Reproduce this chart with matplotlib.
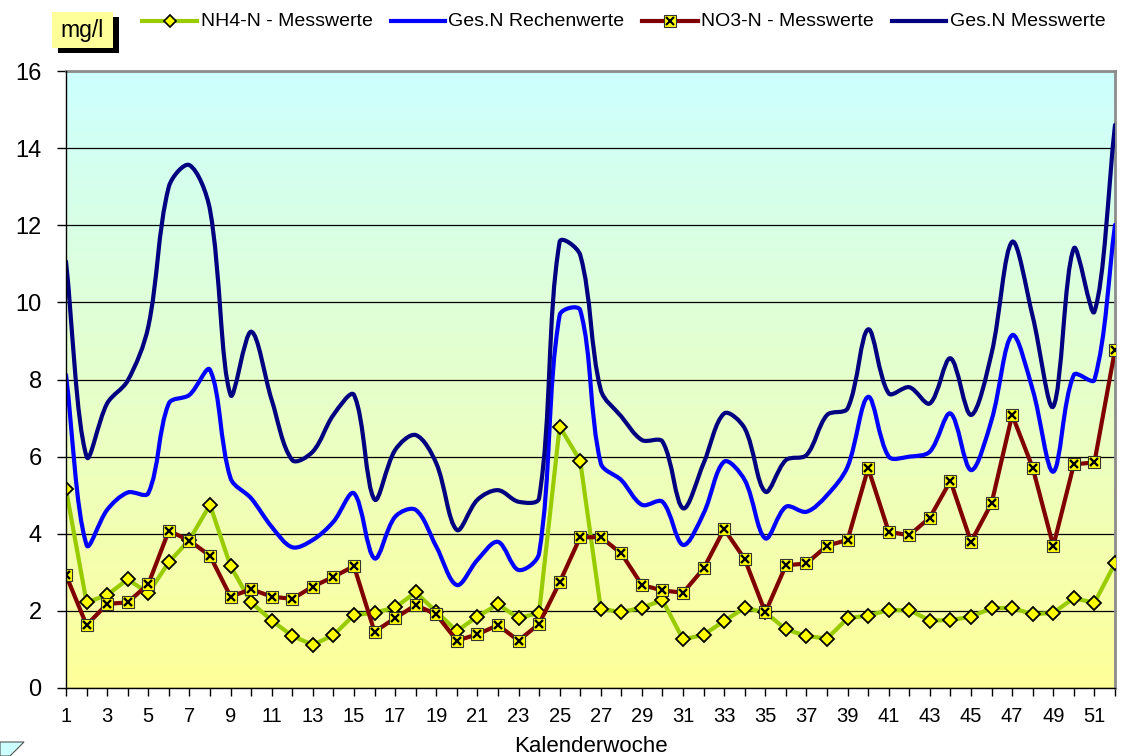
import numpy as np
import matplotlib
matplotlib.use('Agg')
import matplotlib.pyplot as plt
from matplotlib.path import Path
from matplotlib.patches import PathPatch, Rectangle, Polygon
from matplotlib.lines import Line2D

plt.rcParams['font.family'] = ['Liberation Sans', 'DejaVu Sans']

# Calendar weeks
weeks = list(range(1, 53))

# NH4-N measured values (mg/l)
nh4 = [5.15, 2.22, 2.41, 2.82, 2.46, 3.26, 3.84, 4.75, 3.16, 2.22,
       1.75, 1.35, 1.12, 1.37, 1.89, 1.95, 2.09, 2.48, 1.98, 1.48,
       1.85, 2.17, 1.81, 1.95, 6.78, 5.89, 2.05, 1.97, 2.08, 2.28,
       1.26, 1.38, 1.74, 2.08, 1.96, 1.52, 1.35, 1.28, 1.81, 1.88,
       2.02, 2.02, 1.75, 1.76, 1.85, 2.07, 2.08, 1.91, 1.95, 2.33,
       2.21, 3.23]

# NO3-N measured values (mg/l)
no3 = [2.93, 1.63, 2.18, 2.22, 2.69, 4.08, 3.82, 3.43, 2.37, 2.56,
       2.37, 2.31, 2.63, 2.88, 3.16, 1.46, 1.81, 2.15, 1.91, 1.23,
       1.39, 1.63, 1.23, 1.66, 2.74, 3.91, 3.91, 3.49, 2.67, 2.53,
       2.47, 3.10, 4.12, 3.34, 1.96, 3.18, 3.23, 3.69, 3.84, 5.70,
       4.05, 3.96, 4.42, 5.37, 3.79, 4.79, 7.08, 5.71, 3.68, 5.80,
       5.85, 8.77]

# Ges.N calculated values (mg/l)
gesn_calc = [8.12, 3.71, 4.62, 5.07, 5.05, 7.38, 7.60, 8.25, 5.44, 4.92,
             4.18, 3.65, 3.84, 4.31, 5.05, 3.36, 4.44, 4.62, 3.67, 2.67,
             3.32, 3.79, 3.06, 3.49, 9.67, 9.80, 5.83, 5.39, 4.75, 4.83,
             3.71, 4.53, 5.87, 5.39, 3.88, 4.70, 4.57, 5.00, 5.74, 7.55,
             6.00, 6.00, 6.13, 7.12, 5.65, 6.95, 9.15, 7.73, 5.61, 8.12,
             7.99, 12.01]

# Ges.N measured values (mg/l)
gesn_meas = [11.06, 6.00, 7.38, 7.97, 9.37, 13.00, 13.56, 12.40, 7.60, 9.24,
             7.47, 5.91, 6.13, 7.08, 7.60, 4.89, 6.17, 6.56, 5.83, 4.10,
             4.88, 5.13, 4.83, 4.92, 11.57, 11.23, 7.73, 7.04, 6.43, 6.39,
             4.66, 5.83, 7.12, 6.73, 5.09, 5.91, 6.04, 7.08, 7.25, 9.30,
             7.64, 7.80, 7.38, 8.55, 7.08, 8.68, 11.57, 9.63, 7.30, 11.40,
             9.76, 14.60]

series_names = ['NH4-N - Messwerte', 'Ges.N Rechenwerte',
                'NO3-N - Messwerte', 'Ges.N Messwerte']

C_NH4 = '#99CC00'
C_CALC = '#0000FF'
C_NO3 = '#800000'
C_MEAS = '#000080'


def smooth_path(ax, xs, ys):
    # Excel-like smoothed line: cubic Bezier segments, tangents weighted by
    # the on-screen length of the neighbouring segments
    pts = ax.transData.transform(np.column_stack([xs, ys]))
    n = len(pts)
    cout = [None] * n
    cin = [None] * n
    for i in range(n):
        a = pts[i - 1] if i > 0 else pts[i]
        b = pts[i + 1] if i < n - 1 else pts[i]
        d_in = np.hypot(*(pts[i] - a))
        d_out = np.hypot(*(b - pts[i]))
        tot = d_in + d_out
        if tot == 0:
            cout[i] = cin[i] = pts[i]
            continue
        tan = b - a
        cout[i] = pts[i] + tan * d_out / tot / 3
        cin[i] = pts[i] - tan * d_in / tot / 3
    verts = [pts[0]]
    codes = [Path.MOVETO]
    for i in range(n - 1):
        verts += [cout[i], cin[i + 1], pts[i + 1]]
        codes += [Path.CURVE4] * 3
    inv = ax.transData.inverted()
    return Path(inv.transform(np.array(verts)), codes)


W, H = 1125, 756
fig = plt.figure(figsize=(W / 100, H / 100), dpi=100)
ax = fig.add_axes([66 / W, (H - 688) / H, (1115 - 66) / W, (688 - 71) / H])
ax.set_xlim(1, 52)
ax.set_ylim(0, 16)

# background gradient: cyan at top, pale yellow at bottom
top = np.array([0xCC, 0xFF, 0xFF]) / 255
bot = np.array([0xFF, 0xFF, 0x99]) / 255
t = np.linspace(0, 1, 256)[:, None]
grad = (top * (1 - t) + bot * t)[:, None, :]
ax.imshow(grad, extent=[1, 52, 0, 16], aspect='auto', zorder=0, interpolation='bilinear')

ax.set_yticks(range(0, 17, 2))
ax.yaxis.grid(True, color='black', lw=0.9, zorder=1)
ax.set_axisbelow(True)

# series
ax.plot(weeks, nh4, color=C_NH4, lw=3, marker='D', ms=7, mfc='#FFFF00',
        mec='black', mew=1.3, zorder=3)
ax.add_patch(PathPatch(smooth_path(ax, weeks, gesn_calc), fill=False, ec=C_CALC,
                       lw=3, zorder=4, capstyle='round', joinstyle='round'))
ax.plot(weeks, no3, color=C_NO3, lw=3, marker='s', ms=8, mfc='#FFFF00',
        mec='#333333', mew=0.8, zorder=5)
ax.plot(weeks, no3, ls='none', marker='x', ms=6.3, mec='black', mew=1.7, zorder=5)
ax.add_patch(PathPatch(smooth_path(ax, weeks, gesn_meas), fill=False, ec=C_MEAS,
                       lw=3, zorder=6, capstyle='round', joinstyle='round'))

# axes styling
ax.set_xticks(weeks)
ax.set_xticklabels([str(w) if w % 2 == 1 else '' for w in weeks])
ax.tick_params(axis='x', length=6, width=1, pad=8, labelsize=14.5, direction='out')
ax.tick_params(axis='y', length=6.5, width=1, pad=11, labelsize=17, direction='out')
for s in ['top', 'right']:
    ax.spines[s].set_color('#8C8C8C')
    ax.spines[s].set_linewidth(2)
for s in ['left', 'bottom']:
    ax.spines[s].set_color('black')
    ax.spines[s].set_linewidth(1)
    ax.spines[s].set_zorder(7)
ax.set_xlabel('Kalenderwoche', fontsize=16, labelpad=7)


def fx(px):
    return px / W


def fy(py):
    return 1 - py / H


# unit box "mg/l" with shadow
fig.patches.append(Rectangle((fx(58), fy(53)), 61 / W, 36 / H, transform=fig.transFigure,
                             fc='black', ec='none', zorder=1))
fig.patches.append(Rectangle((fx(52), fy(48)), 61 / W, 36 / H, transform=fig.transFigure,
                             fc='#FFFF99', ec='none', zorder=2))
fig.text(fx(82), fy(31), 'mg/l', fontsize=16.5, ha='center', va='center', zorder=3)

# legend drawn manually across the top
legend_lines = [(142, 197, C_NH4, 'D'), (391, 445, C_CALC, None),
                (642, 698, C_NO3, 's'), (892, 946, C_MEAS, None)]
legend_text_x = [201, 448, 701, 950]
ly = 21
for (x0, x1, col, mk), tx, name in zip(legend_lines, legend_text_x, series_names):
    fig.add_artist(Line2D([fx(x0), fx(x1)], [fy(ly), fy(ly)], transform=fig.transFigure,
                          color=col, lw=3))
    if mk == 'D':
        fig.add_artist(Line2D([fx((x0 + x1) / 2)], [fy(ly)], transform=fig.transFigure,
                              marker='D', ms=6.5, mfc='#FFFF00', mec='black', mew=1.2))
    elif mk == 's':
        fig.add_artist(Line2D([fx((x0 + x1) / 2)], [fy(ly)], transform=fig.transFigure,
                              marker='s', ms=8, mfc='#FFFF00', mec='#333333', mew=0.8))
        fig.add_artist(Line2D([fx((x0 + x1) / 2)], [fy(ly)], transform=fig.transFigure,
                              marker='x', ms=6, mec='black', mew=1.5))
    fig.text(fx(tx), fy(ly), name, fontsize=14, ha='left', va='center')

# small shape fragment at bottom-left corner
fig.patches.append(Polygon([(fx(0), fy(742)), (fx(24), fy(742)), (fx(10), fy(756)),
                            (fx(0), fy(756))], closed=True, transform=fig.transFigure,
                           fc='#CCFFFF', ec='#555555', lw=0.8))

fig.savefig('out.png', dpi=100)
